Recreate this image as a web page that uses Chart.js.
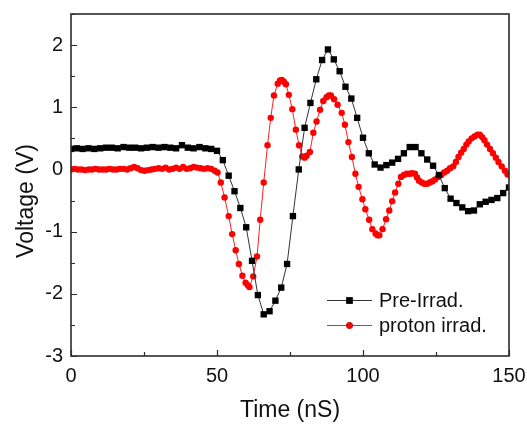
<!DOCTYPE html>
<html><head><meta charset="utf-8">
<script src="https://cdn.jsdelivr.net/npm/chart.js@4"></script>
<style>html,body{margin:0;padding:0;background:#fff}canvas{display:block}</style>
</head><body>
<canvas id="c" width="527" height="425"></canvas>
<script>
// ---- data ----
const seriesNames = ['Pre-Irrad.', 'proton irrad.'];
const xTickValues = [0, 50, 100, 150];
const yTickValues = [-3, -2, -1, 0, 1, 2];
const xTitle = 'Time (nS)';
const yTitle = 'Voltage (V)';

const preTime = [0,2,4,6,8,10,12,14,16,18,20,22,24,26,28,30,32,34,36,38,40,42,44,46,48,
  50,52,54,56,58,60,62,64,66,68,70,72,74,76,78,80,82,84,86,88,90,92,94,96,98,100,
  102,104,106,108,110,112,114,116,118,120,122,124,126,128,130,132,134,136,138,140,142,144,146,148,150];
const preVoltage = [0.33,0.34,0.33,0.34,0.33,0.34,0.35,0.35,0.34,0.36,0.35,0.35,0.34,0.35,0.36,0.35,0.36,0.35,0.34,0.39,0.35,0.34,0.36,0.34,0.33,
  0.30,0.15,-0.10,-0.35,-0.62,-0.93,-1.47,-2.02,-2.33,-2.28,-2.11,-1.90,-1.52,-0.75,0.0,0.67,1.07,1.45,1.76,1.93,1.77,1.58,1.33,1.14,0.83,0.51,
  0.26,0.08,0.03,0.07,0.11,0.17,0.26,0.36,0.36,0.26,0.16,0.06,-0.09,-0.30,-0.47,-0.54,-0.61,-0.67,-0.66,-0.56,-0.52,-0.49,-0.46,-0.38,-0.29];

const protonTime = [0,1.2,2.4,3.6,4.8,6,7.2,8.4,9.6,10.8,12,13.2,14.4,15.6,16.8,18,19.2,20.4,21.6,22.8,24,25.2,26.4,27.6,28.8,30,31.2,32.4,33.6,34.8,36,37.2,38.4,39.6,40.8,42,43.2,44.4,45.6,46.8,48,49.2,
  50.2,51.3,52.6,54.0,55.2,56.4,57.5,58.7,59.8,60.5,61.1,62.4,63.7,64.8,66.0,67.3,68.4,69.5,70.8,71.6,72.2,72.9,73.6,74.6,75.8,77.0,78.1,79.2,80.0,80.7,81.8,83.0,84.1,85.3,86.4,87.5,88.3,89.0,90.1,91.3,92.7,93.8,95.0,96.2,97.4,98.5,99.8,100.8,102.1,103.2,104.3,105.0,105.6,106.7,107.9,109.0,110.0,111.0,112.1,113.0,114.0,115.0,116.0,116.8,117.8,118.5,119.2,120.1,121.0,122.0,122.9,123.8,124.7,125.8,126.8,127.8,128.8,129.8,130.9,131.8,132.7,133.6,134.5,135.4,136.2,137.2,138.2,139.2,140.0,140.8,141.6,142.5,143.5,144.5,145.5,146.4,147.5,148.6,149.5];
const protonVoltage = [0,0.01,0,0,-0.01,0,0,0.01,0,0,0,0.01,0,0,0.01,0.01,0,0.02,0.04,0.02,-0.01,-0.02,-0.01,0,0.01,0.02,0.01,0.03,0,0.01,0.03,0.01,0.04,0.01,0.02,0.04,0.03,0.02,0.01,0.02,0.01,-0.02,
  -0.05,-0.21,-0.45,-0.75,-1.04,-1.30,-1.52,-1.71,-1.82,-1.86,-1.89,-1.72,-1.40,-0.81,-0.21,0.39,0.83,1.19,1.38,1.43,1.44,1.41,1.37,1.20,0.97,0.64,0.39,0.21,0.19,0.22,0.28,0.59,0.77,0.96,1.10,1.16,1.19,1.19,1.13,1.04,0.91,0.72,0.44,0.20,-0.07,-0.28,-0.48,-0.64,-0.81,-0.96,-1.03,-1.06,-1.06,-0.96,-0.80,-0.66,-0.51,-0.37,-0.23,-0.12,-0.09,-0.07,-0.07,-0.06,-0.07,-0.13,-0.18,-0.21,-0.23,-0.23,-0.21,-0.19,-0.16,-0.12,-0.09,-0.05,-0.02,0.02,0.05,0.12,0.20,0.27,0.33,0.40,0.45,0.50,0.53,0.56,0.56,0.52,0.47,0.40,0.33,0.26,0.19,0.12,0.05,-0.02,-0.08];

// ---- chart ----
const FONT = '"Liberation Sans", Arial, sans-serif';
const toPts = (xs, ys) => xs.map((x, i) => ({x, y: ys[i]}));

const framePlugin = {
  id: 'frame',
  afterDraw(chart) {
    const {ctx, chartArea: {left, right, top, bottom}, scales: {x, y}} = chart;
    ctx.save();
    ctx.strokeStyle = '#2b2b2b';
    ctx.lineWidth = 1.6;
    ctx.strokeRect(left, top, right - left, bottom - top);
    ctx.lineWidth = 1.2;
    ctx.beginPath();
    for (let v = 0; v <= 150; v += 25) {
      const px = Math.round(x.getPixelForValue(v)) + 0.5;
      const len = v % 50 === 0 ? 6 : 4;
      ctx.moveTo(px, bottom); ctx.lineTo(px, bottom - len);
    }
    for (let v = -3; v <= 2.5; v += 0.5) {
      const py = Math.round(y.getPixelForValue(v)) + 0.5;
      const len = Number.isInteger(v) ? 6 : 4;
      ctx.moveTo(left, py); ctx.lineTo(left + len, py);
    }
    ctx.stroke();

    // y title
    ctx.fillStyle = '#111';
    ctx.font = '23px ' + FONT;
    ctx.textAlign = 'center';
    ctx.textBaseline = 'middle';
    ctx.translate(27, 201);
    ctx.rotate(-Math.PI / 2);
    ctx.fillText(yTitle, 0, 0);
    ctx.restore();

    // legend
    ctx.save();
    const rows = [{y: 300}, {y: 325}];
    chart.data.datasets.forEach((ds, i) => {
      const ry = rows[i].y;
      ctx.strokeStyle = ds.borderColor;
      ctx.lineWidth = 1;
      ctx.beginPath();
      ctx.moveTo(327, ry + 0.5); ctx.lineTo(372, ry + 0.5);
      ctx.stroke();
      Chart.helpers.drawPoint(ctx, {pointStyle: ds.pointStyle, radius: ds.pointRadius, borderWidth: 0}, 349.5, ry + 0.5);
      ctx.fillStyle = ds.pointBackgroundColor;
      ctx.fill();
      ctx.fillStyle = '#111';
      ctx.font = '20px ' + FONT;
      ctx.textAlign = 'left';
      ctx.textBaseline = 'middle';
      ctx.fillText(ds.label, 379, ry + 1);
    });
    ctx.restore();
  }
};

new Chart(document.getElementById('c'), {
  type: 'line',
  data: {
    datasets: [
      {
        label: seriesNames[0],
        data: toPts(preTime, preVoltage),
        borderColor: '#333333',
        borderWidth: 1,
        pointStyle: 'rect',
        pointRadius: 4.5,
        pointBackgroundColor: '#000000',
        pointBorderWidth: 0,
        tension: 0
      },
      {
        label: seriesNames[1],
        data: toPts(protonTime, protonVoltage),
        borderColor: '#ff2020',
        borderWidth: 1,
        pointStyle: 'circle',
        pointRadius: 3.2,
        pointBackgroundColor: '#ff0000',
        pointBorderWidth: 0,
        tension: 0
      }
    ]
  },
  options: {
    responsive: false,
    animation: false,
    devicePixelRatio: 1,
    layout: {padding: {top: 14, right: 18, left: 0, bottom: 0}},
    plugins: {legend: {display: false}, tooltip: {enabled: false}},
    scales: {
      x: {
        type: 'linear',
        min: 0, max: 150,
        grid: {display: false, drawTicks: false},
        border: {display: false},
        afterBuildTicks: s => { s.ticks = xTickValues.map(v => ({value: v})); },
        ticks: {font: {size: 20, family: FONT}, color: '#111', padding: 8, maxRotation: 0},
        title: {display: true, text: xTitle, font: {size: 23, family: FONT}, color: '#111', padding: {top: 0, bottom: 1}},
        afterFit: s => { s.height = 69; s.paddingLeft = 0; s.paddingRight = 0; }
      },
      y: {
        type: 'linear',
        min: -3, max: 2.5,
        grid: {display: false, drawTicks: false},
        border: {display: false},
        afterBuildTicks: s => { s.ticks = yTickValues.map(v => ({value: v})); },
        ticks: {font: {size: 20, family: FONT}, color: '#111', padding: 8},
        afterFit: s => { s.width = 71; s.paddingTop = 0; s.paddingBottom = 0; }
      }
    }
  },
  plugins: [framePlugin]
});
</script>
</body></html>
